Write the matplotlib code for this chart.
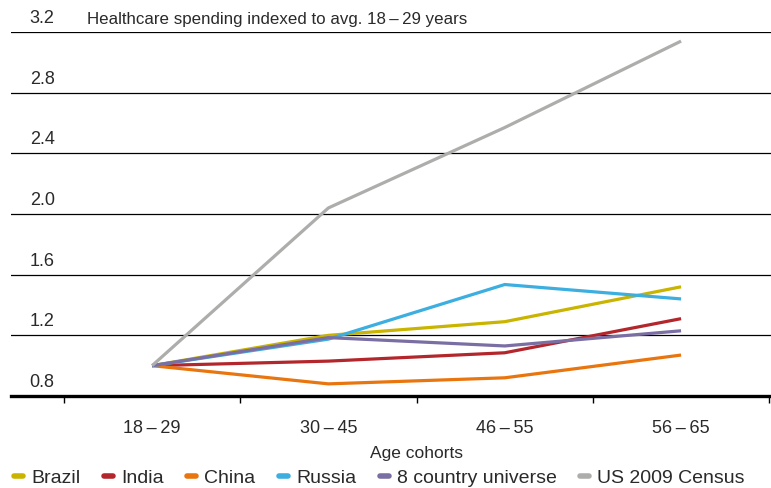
import numpy as np
import matplotlib
matplotlib.use("Agg")
import matplotlib.pyplot as plt
from matplotlib.transforms import blended_transform_factory

plt.rcParams['font.family'] = ['Liberation Sans', 'DejaVu Sans']

# spending index by age cohort, 18-29 = 1.0
cohorts = ["18\u2009\u2013\u200929", "30\u2009\u2013\u200945", "46\u2009\u2013\u200955", "56\u2009\u2013\u200965"]
brazil = [1.0, 1.20, 1.29, 1.52]
india = [1.0, 1.03, 1.085, 1.31]
china = [1.0, 0.88, 0.92, 1.07]
russia = [1.0, 1.175, 1.535, 1.44]
universe = [1.0, 1.185, 1.13, 1.23]
us_census = [1.0, 2.04, 2.57, 3.14]

names = ["Brazil", "India", "China", "Russia", "8 country universe", "US 2009 Census"]
series = [brazil, india, china, russia, universe, us_census]
colors = ["#c9b400", "#b3262b", "#e9750f", "#3caee0", "#7a6ea3", "#adadab"]

y_ticks = [0.8, 1.2, 1.6, 2.0, 2.4, 2.8, 3.2]
text_color = "#2a2a2a"

fig = plt.figure(figsize=(7.71, 4.88), dpi=100)
W, H = 771, 488
ax = fig.add_axes([11 / W, 1 - 396 / H, 760 / W, (396 - 32) / H])

x = np.arange(len(cohorts))
for vals, name, col in zip(series, names, colors):
    ax.plot(x, vals, color=col, lw=2.3, label=name, solid_capstyle='butt')

ax.set_xlim(-0.80, 3.51)
ax.set_ylim(0.8, 3.2)

# horizontal rules instead of a y axis
for yv in y_ticks[1:]:
    ax.axhline(yv, color="black", lw=0.9, zorder=0)
for s in ["left", "right", "top"]:
    ax.spines[s].set_visible(False)
ax.spines["bottom"].set_linewidth(2.4)
ax.spines["bottom"].set_color("black")

ax.set_yticks([])
trans = blended_transform_factory(ax.transAxes, ax.transData)
for yv in y_ticks:
    ax.annotate(f"{yv:.1f}", xy=(0, yv), xycoords=trans, xytext=(13.5, 3.5),
                textcoords="offset points", ha="left", va="bottom",
                fontsize=13, color=text_color)
ax.annotate("Healthcare spending indexed to avg. 18\u2009\u2013\u200929 years", xy=(0, y_ticks[-1]),
            xycoords=trans, xytext=(54.5, 3.5), textcoords="offset points",
            ha="left", va="bottom", fontsize=12.2, color=text_color)

ax.set_xticks(x)
ax.set_xticklabels(cohorts, fontsize=13, color=text_color)
ax.set_xticks(np.arange(-0.5, len(cohorts)), minor=True)
ax.tick_params(axis="x", which="major", length=0, pad=17)
ax.tick_params(axis="x", which="minor", length=5, width=1, direction="out")

ax.set_xlabel("Age cohorts", fontsize=12.5, color=text_color)
x0, x1 = ax.get_xlim()
ax.xaxis.set_label_coords((1.5 - x0) / (x1 - x0), -0.136)

fig.legend(loc="lower left", bbox_to_anchor=(0.008, -0.013), ncol=6, frameon=False,
           fontsize=14, handlelength=0.47, handletextpad=0.42, columnspacing=1.2,
           borderaxespad=0, labelcolor=text_color)
for line in fig.legends[0].get_lines():
    line.set_linewidth(4)
    line.set_solid_capstyle("round")

fig.savefig("out.png", dpi=100)
